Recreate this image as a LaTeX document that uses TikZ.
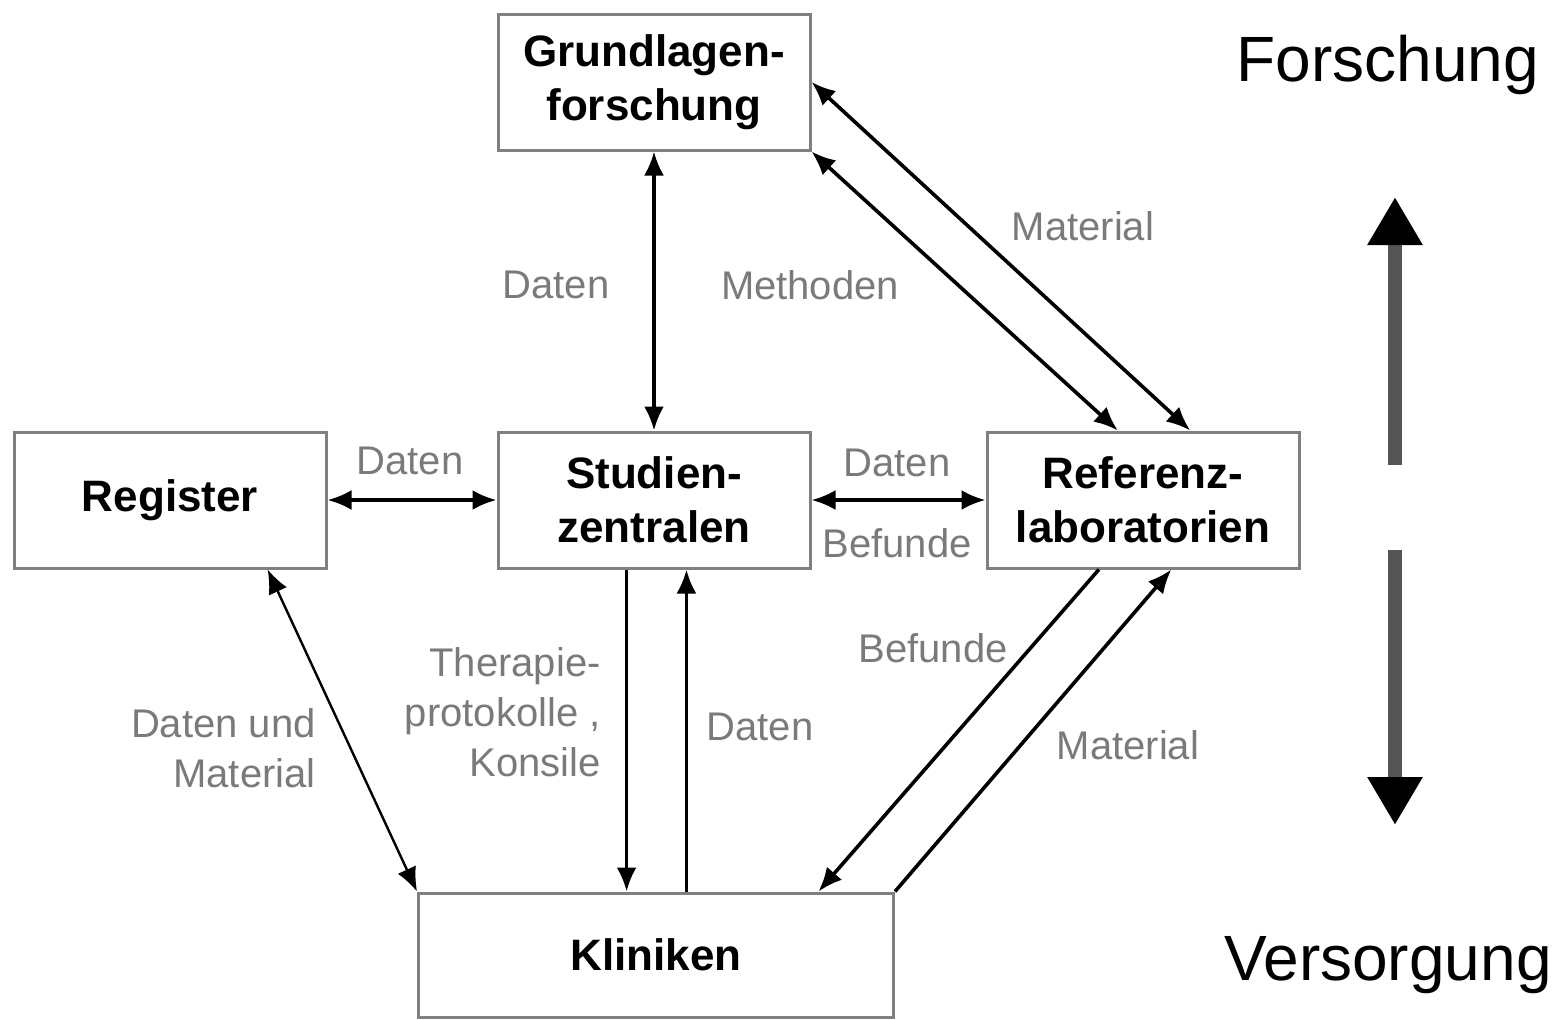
\documentclass[tikz,border=0pt]{standalone}
\usepackage{fontspec}
\setmainfont{Liberation Sans}
\usetikzlibrary{arrows.meta,calc}
\definecolor{boxgray}{HTML}{808080}
\definecolor{labgray}{HTML}{7A7A7A}
\definecolor{shaft}{HTML}{555555}
\tikzset{
  box/.style={draw=boxgray,line width=1.5pt,fill=white,minimum width=156pt,minimum height=68pt,
    align=center,font=\fontsize{22}{27}\selectfont\bfseries,inner sep=0pt},
  lab/.style={text=labgray,font=\fontsize{20}{25}\selectfont,inner sep=0pt},
  big/.style={font=\fontsize{32}{38}\selectfont,inner sep=0pt},
  conn/.style={line width=1.8pt,-{Latex[length=12pt,width=10pt]}},
  bconn/.style={line width=1.8pt,{Latex[length=12pt,width=10pt]}-{Latex[length=12pt,width=10pt]}},
  tconn/.style={line width=1.2pt,{Latex[length=12pt,width=10pt]}-{Latex[length=12pt,width=10pt]}},
  bigarrow/.style={draw=shaft,line width=7pt,-{Triangle[width=26pt,length=24pt,color=black,fill=black]}}
}
\begin{document}
\begin{tikzpicture}[x=0.5pt,y=-0.5pt]
\useasboundingbox (0,0) rectangle (1555,1019);
% boxes
\node[box] (G) at (654,82) {Grundlagen-\\forschung};
\node[box] (R) at (170,500) {Register};
\node[box] (S) at (654,500) {Studien-\\zentralen};
\node[box] (L) at (1143,500) {Referenz-\\laboratorien};
\node[box,minimum width=237.5pt,minimum height=62pt] (K) at (656,955) {Kliniken};
% anchor points
\coordinate (Ltop1) at ($(L.north west)!0.42!(L.north east)$);
\coordinate (Ltop2) at ($(L.north west)!0.65!(L.north east)$);
\coordinate (Sbot1) at ($(S.south west)!0.413!(S.south east)$);
\coordinate (Sbot2) at ($(S.south west)!0.603!(S.south east)$);
\coordinate (Rbot) at ($(R.south west)!0.81!(R.south east)$);
\coordinate (Lbot1) at ($(L.south west)!0.36!(L.south east)$);
\coordinate (Lbot2) at ($(L.south west)!0.59!(L.south east)$);
\coordinate (Ktop1) at ($(K.north west)!0.84!(K.north east)$);
% connectors
\draw[bconn] (G.south) -- (S.north);
\draw[bconn] (R.east) -- (S.west);
\draw[bconn] (S.east) -- (L.west);
\draw[bconn] (G.south east) -- (Ltop1);
\draw[bconn] (G.east) -- (Ltop2);
\draw[conn] (Sbot1) -- (Sbot1 |- K.north);
\draw[conn] (Sbot2 |- K.north) -- (Sbot2);
\draw[tconn] (Rbot) -- (K.north west);
\draw[conn] (Lbot1) -- (Ktop1);
\draw[conn] (K.north east) -- (Lbot2);
% labels
\node[lab] (l1) at (556,285) {Daten};
\node[lab] (l2) at (810,285) {Methoden};
\node[lab] (l3) at (1083,226) {Material};
\node[lab] (l4) at (410,461) {Daten};
\node[lab] (l5) at (897,463) {Daten};
\node[lab] (l6) at (897,543) {Befunde};
\node[lab,align=right,anchor=east] (l7) at (601,712) {Therapie-\\protokolle ,\\Konsile};
\node[lab,align=right,anchor=east] (l8) at (316,748) {Daten und\\Material};
\node[lab] (l9) at (760,727) {Daten};
\node[lab] (l10) at (933,648) {Befunde};
\node[lab] (l11) at (1128,745) {Material};
\node[big] (F) at (1388,65) {Forschung};
\node[big] (V) at (1388,965) {Versorgung};
% big arrows
\coordinate (u1) at (1395,465);
\coordinate (u2) at (1395,197);
\coordinate (d1) at (1395,550);
\coordinate (d2) at (1395,825);
\draw[bigarrow] (u1) -- (u2);
\draw[bigarrow] (d1) -- (d2);
\end{tikzpicture}
\end{document}
